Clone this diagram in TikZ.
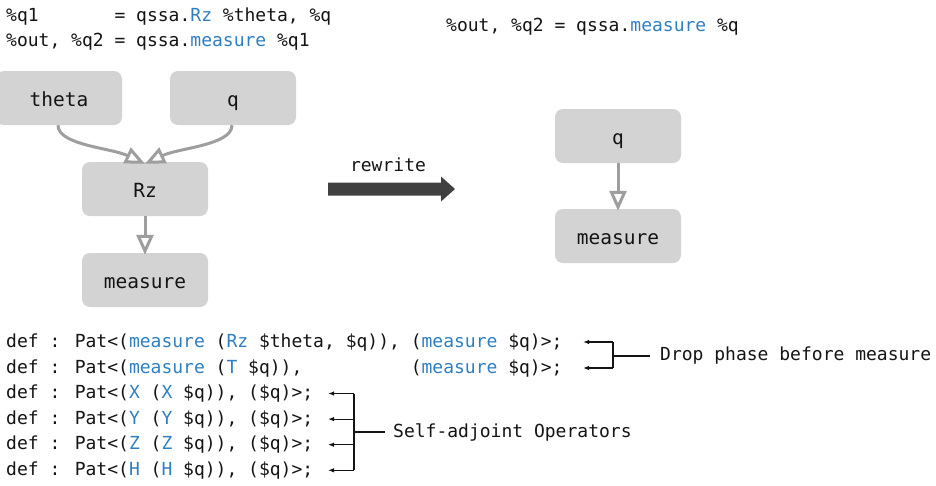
\documentclass[tikz,border=0pt]{standalone}
\usepackage{fontspec}
\setmainfont{DejaVu Sans Mono}
\usetikzlibrary{arrows.meta}

\definecolor{boxgray}{HTML}{D3D3D3}
\definecolor{edgegray}{HTML}{9E9E9E}
\definecolor{kwblue}{HTML}{2F7FC1}
\definecolor{ink}{HTML}{141414}
\definecolor{bigarrow}{HTML}{404040}

% keywords of the dialect are printed in blue
\newcommand{\opname}[1]{\textcolor{kwblue}{#1}}

\begin{document}
\begin{tikzpicture}[x=1pt, y=-1pt,
  font=\fontsize{18}{18}\selectfont,
  op/.style={fill=boxgray, rounded corners=8pt, minimum width=126pt,
    minimum height=54pt, inner sep=0pt, text=ink,
    font=\fontsize{19.5}{19.5}\selectfont, text height=18pt, text depth=2pt},
  flow/.style={draw=edgegray, line width=3pt,
    -{Triangle[open, length=20pt, width=17pt, fill=white]}},
  code/.style={anchor=base west, inner sep=0pt, text=ink},
  note/.style={anchor=west, inner sep=0pt, text=ink},
  brace/.style={draw=ink, line width=1.2pt},
  tip/.style={-{Latex[length=6pt, width=4.5pt]}}]

\useasboundingbox (0,0) rectangle (936,485);

% source program
\node[code] (hdr1) at (6,21) {\%q1~~~~~~~= qssa.\opname{Rz} \%theta, \%q};
\node[code] (hdr2) at (6,46) {\%out, \%q2 = qssa.\opname{measure} \%q1};
% rewritten program
\node[code] (hdr3) at (446,31) {\%out, \%q2 = qssa.\opname{measure} \%q};

% dataflow graph before the rewrite
\node[op] (theta) at (59,98)  {theta};
\node[op] (q)     at (233,98) {q};
\node[op] (rz)    at (145,189) {Rz};
\node[op] (meas)  at (145,280) {measure};

\draw[flow] ([xshift=-1pt]theta.south) .. controls +(0,20) and +(-34,-16) .. ([yshift=-2pt]rz.north);
\draw[flow] ([xshift=-1pt]q.south) .. controls +(0,20) and +(34,-16) .. ([yshift=-2pt]rz.north);
\draw[flow] (rz) -- ([yshift=-2pt]meas.north);

% the rewrite step
\coordinate (rwtail) at (328,189);
\coordinate (rwhead) at (455,189);
\fill[bigarrow] (rwtail) ++(0,-6.5) -- ++(113,0) -- ++(0,-6) -- (rwhead)
  -- ++(-14,12.5) -- ++(0,-6) -- ++(-113,0) -- cycle;
\node[anchor=base, inner sep=0pt, text=ink] (rwlabel) at (388,171) {rewrite};

% dataflow graph after the rewrite
\node[op] (q2)    at (618,136) {q};
\node[op] (meas2) at (618,236) {measure};
\draw[flow] (q2) -- ([yshift=-2pt]meas2.north);

% rewrite patterns
\node[code] (p1) at (6,347.5) {def : Pat<(\opname{measure} (\opname{Rz} \$theta, \$q)), (\opname{measure} \$q)>;};
\node[code] (p2) at (6,373.1) {def : Pat<(\opname{measure} (\opname{T} \$q)),~~~~~~~~~~(\opname{measure} \$q)>;};
\node[code] (p3) at (6,398.7) {def : Pat<(\opname{X} (\opname{X} \$q)), (\$q)>;};
\node[code] (p4) at (6,424.3) {def : Pat<(\opname{Y} (\opname{Y} \$q)), (\$q)>;};
\node[code] (p5) at (6,449.9) {def : Pat<(\opname{Z} (\opname{Z} \$q)), (\$q)>;};
\node[code] (p6) at (6,475.5) {def : Pat<(\opname{H} (\opname{H} \$q)), (\$q)>;};

% group: measurement phase patterns
\coordinate (d1) at (583,342);
\coordinate (d2) at (583,368);
\coordinate (dj) at (613,356);
\node[note] (droplbl) at (660,356) {Drop phase before measure};
\draw[brace] (d1 -| dj) -- (d2 -| dj);
\draw[brace, tip] (d1 -| dj) -- (d1);
\draw[brace, tip] (d2 -| dj) -- (d2);
\draw[brace] (dj) -- ([xshift=-10pt]droplbl.west);

% group: involution patterns
\coordinate (s1) at (328,393.5);
\coordinate (s2) at (328,419.1);
\coordinate (s3) at (328,444.7);
\coordinate (s4) at (328,470.3);
\coordinate (sj) at (354,432);
\node[note] (sadjlbl) at (393,432) {Self-adjoint Operators};
\draw[brace] (s1 -| sj) -- (s4 -| sj);
\draw[brace, tip] (s1 -| sj) -- (s1);
\draw[brace, tip] (s2 -| sj) -- (s2);
\draw[brace, tip] (s3 -| sj) -- (s3);
\draw[brace, tip] (s4 -| sj) -- (s4);
\draw[brace] (sj) -- ([xshift=-8pt]sadjlbl.west);

\end{tikzpicture}
\end{document}
